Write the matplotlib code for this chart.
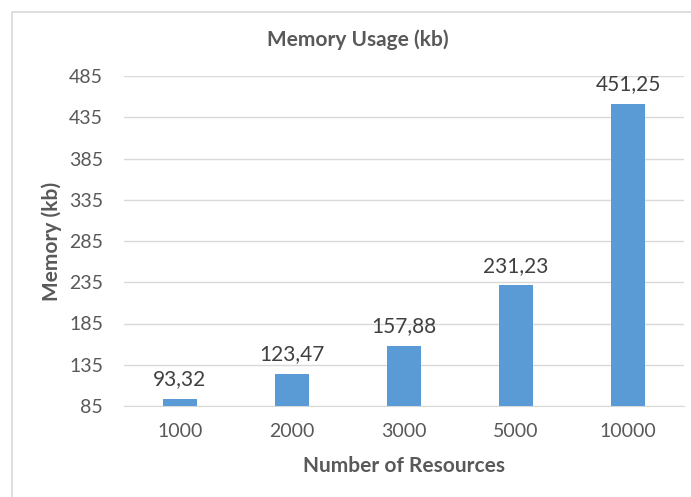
import matplotlib.pyplot as plt
from matplotlib.patches import Rectangle

# data
resources = ['1000', '2000', '3000', '5000', '10000']
memory_kb = [93.32, 123.47, 157.88, 231.23, 451.25]
y_ticks = [85, 135, 185, 235, 285, 335, 385, 435, 485]

plt.rcParams['font.family'] = ['Lato', 'DejaVu Sans']
text_color = '#595959'

W, H = 691, 497
fig = plt.figure(figsize=(W / 100, H / 100), dpi=100)
ax = fig.add_axes([124 / W, 1 - 406 / H, 560 / W, 330 / H])

# chart border (Excel style, cropped on right/bottom)
fig.patches.append(Rectangle((12 / W, -0.1), 1.2, 1 - 12 / H + 0.1,
                             transform=fig.transFigure, fill=False,
                             edgecolor='#d9d9d9', linewidth=1.2))

x = range(len(resources))
bars = ax.bar(x, memory_kb, width=0.31, color='#5b9bd5', zorder=3)

# bar values with decimal comma
for b, v in zip(bars, memory_kb):
    ax.annotate(f'{v:.2f}'.replace('.', ','),
                (b.get_x() + b.get_width() / 2, v),
                xytext=(0, 7), textcoords='offset points',
                ha='center', va='bottom', fontsize=15, color='#404040')

ax.set_xlim(-0.5, len(resources) - 0.5)
ax.set_ylim(85, 485)
ax.set_yticks(y_ticks)
ax.set_xticks(list(x))
ax.set_xticklabels(resources)
ax.tick_params(length=0, labelsize=14, labelcolor=text_color)
ax.tick_params(axis='y', pad=15)
ax.tick_params(axis='x', pad=12)

ax.grid(axis='y', color='#d9d9d9', linewidth=1, zorder=0)
for s in ['top', 'right', 'left']:
    ax.spines[s].set_visible(False)
ax.spines['bottom'].set_color('#d9d9d9')

fig.text(358 / W, 1 - 40 / H, 'Memory Usage (kb)', fontsize=15,
         fontweight='bold', color=text_color, ha='center', va='center')
fig.text(404 / W, 1 - 466 / H, 'Number of Resources', fontsize=15,
         fontweight='bold', color=text_color, ha='center', va='center')
fig.text(52 / W, 1 - 241 / H, 'Memory (kb)', fontsize=15, rotation=90,
         fontweight='bold', color=text_color, ha='center', va='center')

fig.savefig('out.png', dpi=100)
